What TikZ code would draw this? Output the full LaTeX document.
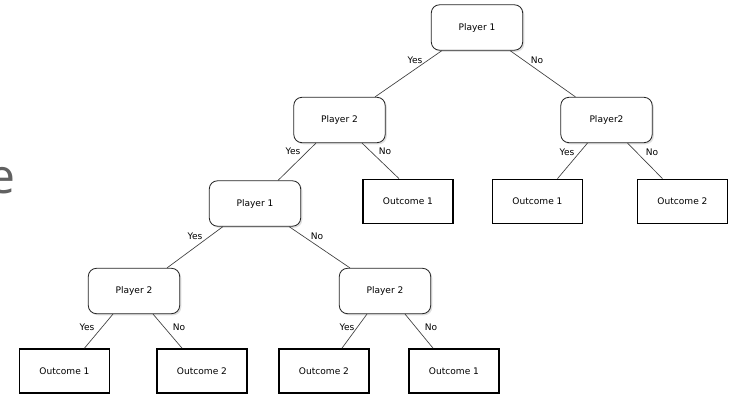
\documentclass[tikz,border=0pt]{standalone}
\usepackage{fontspec}
\setmainfont{DejaVu Sans}
\newfontfamily\slidefont{Open Sans}
\usetikzlibrary{calc}
\usetikzlibrary{shadows}

\tikzset{
  player/.style={draw=black!85, fill=white, rounded corners=6pt, line width=0.6pt,
    minimum width=68.5pt, minimum height=34pt,
    drop shadow={opacity=0.25, shadow xshift=1.2pt, shadow yshift=-1.2pt},
    font=\fontsize{6.8}{8}\selectfont},
  outcome/.style={draw=black, fill=white, line width=1.3pt,
    minimum width=67.5pt, minimum height=33pt,
    font=\fontsize{6.8}{8}\selectfont},
  branch/.style={draw=black!75, line width=0.5pt},
  choice/.style={font=\fontsize{6.8}{8}\selectfont, inner sep=1pt}
}

\begin{document}
\begin{tikzpicture}[x=0.75pt,y=-0.75pt]
                    \useasboundingbox[fill=white] (0,0) rectangle (729,396);

                    % slide text cut off at the left
                    \node[anchor=base east, inner sep=0pt, text=black!62,
                          font=\slidefont\fontsize{36}{40}\selectfont] (slide) at (15.5,193) {e};

                    % players
                    \node[player] (root) at (477,27.5) {Player 1};
                    \node[player] (pA) at (339.5,120) {Player 2};
                    \node[player] (pB) at (606.5,120) {Player2};
                    \node[player] (pC) at (255,203.5) {Player 1};
                    \node[player] (pD) at (134,291) {Player 2};
                    \node[player] (pE) at (385,291) {Player 2};

                    % outcomes
                    \node[outcome] (oA) at (408,201.5) {Outcome 1};
                    \node[outcome] (oB1) at (537.5,201.5) {Outcome 1};
                    \node[outcome] (oB2) at (682.5,201.5) {Outcome 2};
                    \node[outcome] (oD1) at (64.5,371) {Outcome 1};
                    \node[outcome] (oD2) at (202,371) {Outcome 2};
                    \node[outcome] (oE1) at (324,371) {Outcome 2};
                    \node[outcome] (oE2) at (454,371) {Outcome 1};

                    % branches
                    \draw[branch] ($(root.south)+(-35,0)$) -- ($(pA.north)+(35.5,0)$);
                    \draw[branch] ($(root.south)+(33,0)$) -- ($(pB.north)+(-31,0)$);
                    \draw[branch] ($(pA.south)+(-23.5,0)$) -- ($(pC.north)+(23,0)$);
                    \draw[branch] ($(pA.south)+(22.5,0)$) -- ($(oA.north)+(-9,0)$);
                    \draw[branch] ($(pB.south)+(-19,0)$) -- ($(oB1.north)+(20,0)$);
                    \draw[branch] ($(pB.south)+(21,0)$) -- ($(oB2.north)+(-20,0)$);
                    \draw[branch] ($(pC.south)+(-32,0)$) -- ($(pD.north)+(33,0)$);
                    \draw[branch] ($(pC.south)+(34,0)$) -- ($(pE.north)+(-35,0)$);
                    \draw[branch] ($(pD.south)+(-21,0)$) -- ($(oD1.north)+(20,0)$);
                    \draw[branch] ($(pD.south)+(19,0)$) -- ($(oD2.north)+(-20,0)$);
                    \draw[branch] ($(pE.south)+(-18,0)$) -- ($(oE1.north)+(18,0)$);
                    \draw[branch] ($(pE.south)+(20,0)$) -- ($(oE2.north)+(-21,0)$);

                    % choices
                    \node[choice] (rootY) at (415,60) {Yes};
                    \node[choice] (rootN) at (537,60) {No};
                    \node[choice] (pAY) at (293,151) {Yes};
                    \node[choice] (pAN) at (385,151) {No};
                    \node[choice] (pBY) at (567,152) {Yes};
                    \node[choice] (pBN) at (652,152) {No};
                    \node[choice] (pCY) at (195,236) {Yes};
                    \node[choice] (pCN) at (317,236) {No};
                    \node[choice] (pDY) at (87,327) {Yes};
                    \node[choice] (pDN) at (179,327) {No};
                    \node[choice] (pEY) at (347,327) {Yes};
                    \node[choice] (pEN) at (431,327) {No};
                \end{tikzpicture}
\end{document}
